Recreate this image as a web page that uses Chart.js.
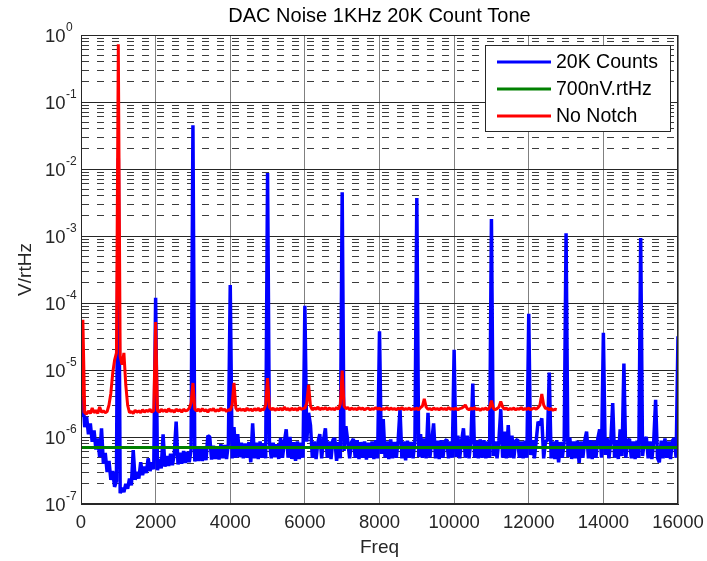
<!DOCTYPE html>
<html>
<head>
<meta charset="utf-8">
<title>DAC Noise 1KHz 20K Count Tone</title>
<script src="https://cdn.jsdelivr.net/npm/chart.js@4.4.1/dist/chart.umd.min.js"></script>
<style>
  body { margin: 0; background: #fff; }
  #wrap { width: 707px; height: 561px; }
</style>
</head>
<body>
<div id="wrap"><canvas id="noise-chart" width="707" height="561"></canvas></div>
<script>
// Spectra, one sample every 50 Hz from 0 Hz, values in nV/rtHz
var sampleStep = 50;

var countsNV = [
  2000, 4000, 1400, 2000, 1100, 1600, 850, 1250, 650, 950, 500, 1350, 400, 580, 300, 440, 230, 310, 180, 220,
  14500000, 145, 175, 150, 200, 170, 240, 190, 640, 230, 300, 240, 420, 270, 360, 290, 480, 310, 420, 330,
  120000, 320, 470, 340, 1100, 360, 520, 370, 560, 380, 560, 1700, 390, 580, 400, 620, 410, 600, 420, 640,
  45000000, 430, 660, 440, 680, 440, 700, 450, 1050, 1000, 460, 740, 470, 720, 460, 780, 480, 760, 470, 800,
  186000, 480, 1400, 490, 1100, 500, 820, 480, 800, 490, 840, 420, 1600, 480, 820, 470, 860, 490, 800, 480,
  8700000, 850, 480, 820, 500, 780, 470, 970, 490, 840, 1300, 490, 1000, 470, 840, 440, 860, 470, 820, 490,
  91000, 850, 2300, 1500, 490, 860, 470, 840, 1100, 480, 900, 1350, 490, 860, 470, 900, 960, 440, 840, 480,
  4500000, 620, 1450, 860, 480, 840, 940, 490, 900, 470, 840, 490, 860, 460, 820, 490, 860, 470, 900, 480,
  38000, 560, 1850, 490, 860, 470, 920, 480, 840, 490, 880, 2600, 480, 860, 450, 880, 490, 840, 480, 900,
  3700000, 500, 1100, 490, 950, 480, 2300, 490, 860, 1600, 480, 880, 470, 900, 490, 860, 920, 480, 860, 490,
  20000, 500, 1050, 480, 880, 1350, 490, 1050, 480, 860, 6300, 490, 880, 480, 920, 490, 900, 480, 860, 490,
  1800000, 520, 860, 480, 880, 2600, 490, 1200, 480, 1500, 490, 1050, 480, 880, 920, 490, 860, 480, 880, 490,
  69000, 540, 900, 480, 880, 1700, 1500, 1900, 480, 860, 880, 9200, 480, 860, 470, 900, 420, 840, 490, 860,
  1100000, 500, 980, 470, 860, 480, 880, 410, 860, 490, 880, 1200, 480, 900, 470, 880, 490, 940, 1300, 490,
  36000, 540, 960, 480, 880, 3200, 490, 900, 470, 1300, 520, 12500, 490, 860, 940, 480, 860, 470, 880, 490,
  930000, 520, 880, 1000, 480, 860, 470, 880, 3600, 490, 420, 880, 480, 950, 490, 860, 470, 880, 960, 490,
  32000
];

var noNotchNV = [
  2300, 56000, 2300, 2200, 2450, 2250, 2700, 2300, 2500, 2250, 2800, 2350, 2450, 2300, 2400, 3000, 4500, 9000, 14000, 18000,
  730000000, 16000, 12000, 18000, 6000, 3000, 2300, 2400, 2250, 2500, 2350, 2450, 2300, 2550, 2350, 2500, 2400, 2600, 2350, 2500,
  52000, 2500, 2350, 2600, 2400, 2550, 2350, 2650, 2400, 2500, 2350, 2600, 2450, 2550, 2350, 2600, 2450, 2500, 2700, 3200,
  6400, 2600, 2450, 2600, 2400, 2650, 2450, 2550, 2350, 2600, 2500, 2650, 2400, 2550, 2450, 2700, 2500, 2600, 2400, 2550,
  2500, 3000, 6400, 2700, 2450, 2650, 2500, 2600, 2450, 2700, 2500, 2600, 2450, 2650, 2500, 2700, 2450, 2600, 2550, 3000,
  7600, 2800, 2550, 2700, 2500, 2650, 2550, 2700, 2500, 2800, 2550, 2650, 2500, 2700, 2550, 2650, 2500, 2750, 2600, 2650,
  2700, 3200, 6000, 2900, 2550, 2700, 2600, 2800, 2550, 2700, 2600, 2750, 2550, 2700, 2600, 2650, 2550, 2750, 2600, 3100,
  9800, 2900, 2650, 2750, 2550, 2700, 2600, 2650, 2550, 2750, 2600, 2700, 2550, 2650, 2700, 2550, 2650, 2600, 2750, 2600,
  2700, 2550, 2650, 2600, 2750, 2550, 2700, 2600, 2650, 2550, 2700, 2600, 2750, 2550, 2650, 2600, 2700, 2550, 2650, 2600,
  2700, 2550, 2750, 2900, 3700, 2800, 2600, 2650, 2550, 2700, 2600, 2650, 2550, 2700, 2600, 2650, 2550, 2750, 2600, 2650,
  2600, 2700, 2550, 2650, 2700, 2800, 3000, 2650, 2550, 2700, 2600, 2750, 2550, 2650, 2500, 2650, 2600, 2700, 2550, 2750,
  3500, 2700, 2550, 2650, 2800, 3400, 2800, 2600, 2700, 2550, 2650, 2600, 2700, 2550, 2650, 2600, 2750, 2550, 2650, 2600,
  2700, 2550, 2650, 2700, 2600, 2750, 3000, 4400, 3000, 2650, 2700, 2550, 2650, 2500, 2600, 2550
];

// 700 nV/rtHz reference line
var floorFreq = [0, 16000];
var floorNV = [700, 700];

var xTicks = [0, 2000, 4000, 6000, 8000, 10000, 12000, 14000, 16000];
var yDecades = [1e-7, 1e-6, 1e-5, 1e-4, 1e-3, 1e-2, 1e-1, 1];
var yMinorSteps = [2, 3, 4, 5, 6, 7, 8, 9];

var FONT = '"Liberation Sans", Arial, sans-serif';

function toPoints(values, step) {
  return values.map(function (v, i) { return { x: i * step, y: v * 1e-9 }; });
}

function isDecade(v) {
  var l = Math.log10(v);
  return Math.abs(l - Math.round(l)) < 1e-6;
}

// y labels as 10 with a raised exponent, plus axes box and legend
var matlabLook = {
  id: 'matlabLook',
  afterDraw: function (chart) {
    var c = chart.ctx, area = chart.chartArea, ys = chart.scales.y;
    c.save();

    c.strokeStyle = '#262626';
    c.lineWidth = 1;
    c.strokeRect(Math.round(area.left) + 0.5, Math.round(area.top) + 0.5,
      Math.round(area.right - area.left) - 1, Math.round(area.bottom - area.top) - 1);

    c.fillStyle = '#262626';
    c.textAlign = 'left';
    c.textBaseline = 'alphabetic';
    yDecades.forEach(function (v) {
      var py = ys.getPixelForValue(v);
      c.font = '18.5px ' + FONT;
      c.fillText('10', 45, py + 7);
      var w = c.measureText('10').width;
      c.font = '12px ' + FONT;
      c.fillText(String(Math.round(Math.log10(v))), 45 + w + 0.5, py - 4);
    });

    var bw = 185, bh = 86;
    var bx = Math.round(area.right) - 8 - bw, by = Math.round(area.top) + 10;
    c.fillStyle = '#fff';
    c.fillRect(bx, by, bw, bh);
    c.strokeStyle = '#262626';
    c.strokeRect(bx + 0.5, by + 0.5, bw, bh);
    c.font = '19.5px ' + FONT;
    c.textBaseline = 'middle';
    chart.data.datasets.forEach(function (ds, i) {
      var ry = by + 17 + i * 27;
      c.strokeStyle = ds.borderColor;
      c.lineWidth = 3;
      c.beginPath();
      c.moveTo(bx + 12, ry);
      c.lineTo(bx + 66, ry);
      c.stroke();
      c.fillStyle = '#000';
      c.fillText(ds.label, bx + 71, ry + 1);
    });
    c.restore();
  }
};

var ctx = document.getElementById('noise-chart');

var chartData = {
  datasets: [{
    label: '20K Counts',
    data: toPoints(countsNV, sampleStep),
    borderColor: '#0000ff',
    borderWidth: 3.5,
    order: 3
  }, {
    label: '700nV.rtHz',
    data: floorFreq.map(function (f, i) { return { x: f, y: floorNV[i] * 1e-9 }; }),
    borderColor: '#008000',
    order: 2
  }, {
    label: 'No Notch',
    data: toPoints(noNotchNV, sampleStep),
    borderColor: '#ff0000',
    order: 1
  }]
};

var chartOptions = {
  responsive: false,
  animation: false,
  events: [],
  devicePixelRatio: 1,
  layout: { padding: { left: 0, right: 29, top: 0, bottom: 0 } },
  elements: {
    line: { borderWidth: 3, tension: 0, borderJoinStyle: 'bevel', fill: false },
    point: { radius: 0 }
  },
  plugins: {
    legend: { display: false },
    tooltip: { enabled: false },
    title: {
      display: true,
      text: 'DAC Noise 1KHz 20K Count Tone',
      fullSize: false,
      color: '#000',
      font: { family: FONT, size: 20, weight: 'normal', lineHeight: 1.2 },
      padding: { top: 4, bottom: 7 }
    }
  },
  scales: {
    x: {
      type: 'linear',
      min: 0,
      max: 16000,
      afterBuildTicks: function (scale) {
        scale.ticks = xTicks.map(function (v) { return { value: v }; });
      },
      afterFit: function (scale) {
        scale.height = 57;
        scale.paddingLeft = 0;
        scale.paddingRight = 0;
      },
      ticks: {
        autoSkip: false,
        maxRotation: 0,
        padding: 8,
        color: '#262626',
        font: { family: FONT, size: 18.5 },
        callback: function (v) { return String(v); }
      },
      grid: { color: '#808080', lineWidth: 1, drawTicks: false },
      border: { color: '#262626', width: 1 },
      title: {
        display: true,
        text: 'Freq',
        color: '#262626',
        font: { family: FONT, size: 19, lineHeight: 1.2 },
        padding: { top: 0, bottom: 2 }
      }
    },
    y: {
      type: 'logarithmic',
      min: 1e-7,
      max: 1,
      afterBuildTicks: function (scale) {
        var t = [];
        yDecades.forEach(function (d, i) {
          t.push({ value: d });
          if (i < yDecades.length - 1) {
            yMinorSteps.forEach(function (m) { t.push({ value: d * m }); });
          }
        });
        scale.ticks = t;
      },
      afterFit: function (scale) {
        scale.width = 81;
        scale.paddingTop = 0;
        scale.paddingBottom = 0;
      },
      ticks: { display: false, autoSkip: false },
      grid: {
        drawTicks: false,
        lineWidth: 1,
        color: function (c) {
          return (c.tick && isDecade(c.tick.value)) ? '#262626' : '#3c3c3c';
        }
      },
      border: {
        color: '#262626',
        width: 1,
        dash: function (c) {
          return (c.tick && !isDecade(c.tick.value)) ? [7, 8] : [];
        }
      },
      title: {
        display: true,
        text: 'V/rtHz',
        color: '#262626',
        font: { family: FONT, size: 19, lineHeight: 1.2 },
        padding: { top: 14, bottom: 0 }
      }
    }
  }
};

var config = {
  type: 'line',
  data: chartData,
  options: chartOptions,
  plugins: [matlabLook]
};

var noiseChart = new Chart(ctx, config);
</script>
</body>
</html>
